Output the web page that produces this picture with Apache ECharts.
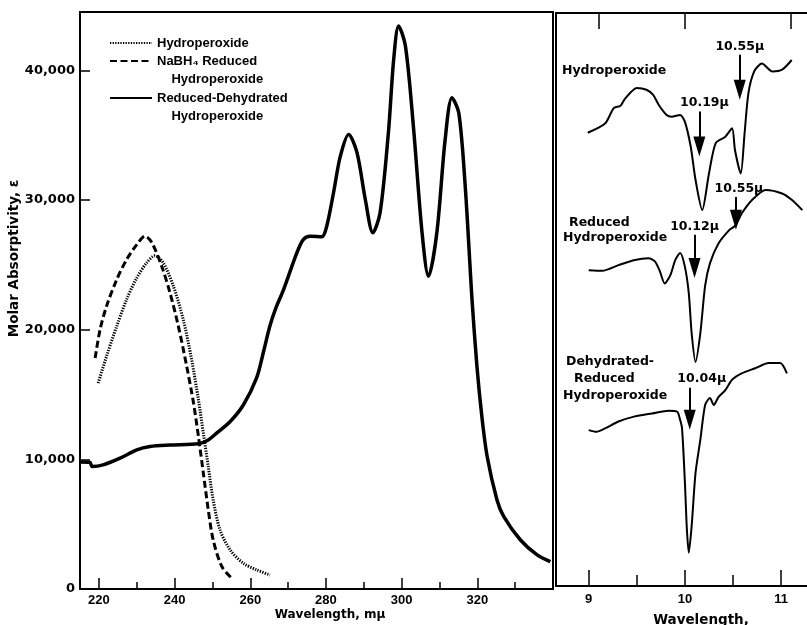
<!DOCTYPE html>
<html><head><meta charset="utf-8">
<script src="https://cdn.jsdelivr.net/npm/echarts@6/dist/echarts.min.js"></script>
<style>html,body{margin:0;padding:0;background:#fff}#c{width:807px;height:625px}</style>
</head><body><div id="c"></div>
<script>
// ---- tick values ----
const uvTicksMajor = [220, 240, 260, 280, 300, 320];
const uvTicksMinor = [230, 250, 270, 290, 310, 330];
const absTicks = [0, 10000, 20000, 30000, 40000];
const irTicksMajor = [9, 10, 11];
const irTicksMinor = [9.5, 10.5];
const irTicksTop = [9.1, 10, 11.1];

// ---- UV spectra: [wavelength mμ, molar absorptivity] ----
const hydroperoxideUV = [[219.8,15880],[222.0,17940],[224.7,20260],[227.3,22320],[230.0,23990],[232.6,25150],[234.8,25710],[237.0,25150],[239.7,23340],[242.3,20770],[244.5,17680],[246.3,14590],[247.6,12020],[248.9,9440],[250.2,6870],[252.0,4560],[254.7,3010],[258.2,1980],[261.7,1470],[265.2,1080]];
const reducedUV = [[219.0,17810],[220.3,20000],[222.0,21800],[224.7,23860],[227.3,25400],[230.0,26560],[232.2,27210],[234.0,26700],[236.6,24890],[238.8,22830],[241.0,20260],[243.2,17170],[245.0,14340],[246.3,11760],[247.6,8930],[248.9,6100],[250.2,3780],[252.5,1720],[255.1,830]];
const dehydratedUV = [[215.0,9800],[217.6,9780],[218.2,9450],[221.1,9575],[225.6,10090],[230.0,10730],[233.5,10990],[238.8,11100],[246.3,11200],[248.9,11500],[251.1,12020],[254.7,12920],[258.2,14210],[261.7,16300],[263.5,18300],[265.2,20300],[266.8,21700],[268.8,23090],[272.3,25920],[274.0,26950],[275.8,27200],[278.9,27160],[280.2,27980],[282.0,30560],[283.8,33380],[286.0,35060],[288.2,33650],[290.4,30040],[292.4,27470],[294.3,29010],[296.5,35190],[297.9,40850],[299.2,43420],[301.0,41880],[303.1,35700],[305.4,27470],[307.1,24120],[309.3,27470],[311.5,34670],[313.3,37890],[315.1,36730],[316.8,31070],[318.6,22320],[319.9,17170],[321.2,13300],[322.6,10220],[325.2,6870],[327.0,5580],[331.4,3780],[335.8,2630],[339.3,2110]];

// ---- IR spectra: [wavelength μ, relative transmittance (offset traces)] ----
const irHydroperoxide = [[8.99,79.1],[9.17,80.7],[9.26,83.4],[9.33,83.8],[9.38,85.1],[9.50,86.9],[9.60,86.6],[9.67,85.7],[9.73,83.9],[9.81,82.2],[9.86,81.9],[9.95,82.2],[10.00,81.0],[10.06,76.7],[10.11,70.9],[10.18,65.6],[10.25,72.0],[10.32,77.3],[10.42,78.4],[10.49,79.9],[10.52,76.1],[10.58,72.0],[10.62,79.0],[10.66,86.0],[10.72,89.8],[10.80,91.2],[10.91,89.8],[11.01,90.1],[11.11,91.8]];
const irReduced = [[9.00,55.1],[9.14,55.0],[9.31,56.0],[9.48,56.9],[9.62,57.2],[9.69,56.6],[9.74,54.9],[9.79,52.8],[9.85,54.3],[9.90,56.9],[9.95,58.1],[10.00,55.7],[10.04,51.1],[10.07,44.1],[10.11,39.1],[10.16,44.1],[10.21,52.4],[10.26,56.3],[10.35,59.8],[10.46,62.1],[10.51,62.7],[10.54,63.3],[10.59,65.0],[10.70,67.4],[10.84,69.1],[11.01,68.5],[11.11,67.4],[11.22,65.6]];
const irDehydrated = [[9.00,27.2],[9.08,26.9],[9.17,27.5],[9.31,28.7],[9.48,29.6],[9.66,30.1],[9.83,30.6],[9.92,30.4],[9.95,29.0],[9.97,27.5],[10.00,18.0],[10.02,10.0],[10.04,5.8],[10.07,10.5],[10.11,19.7],[10.16,25.5],[10.21,31.6],[10.26,32.8],[10.30,31.6],[10.35,33.0],[10.42,34.2],[10.49,36.0],[10.59,37.1],[10.73,38.0],[10.87,38.9],[10.99,38.9],[11.06,37.1]];

// ---- band annotations: [label, wavelength, arrow top, arrow tip] ----
const bandsHydroperoxide = [['10.55μ', 10.57, 92.7, 86.6], ['10.19μ', 10.15, 82.8, 76.7]];
const bandsReduced = [['10.55μ', 10.53, 67.9, 63.9], ['10.12μ', 10.10, 61.3, 55.5]];
const bandsDehydrated = [['10.04μ', 10.05, 34.6, 29.0]];

const F_LIB = 'Liberation Sans, Arial, sans-serif';
const F_DJV = 'DejaVu Sans, sans-serif';

function bandMarks(bands, pads) {
  return {
    silent: true,
    symbol: ['none', 'triangle'],
    symbolSize: [12, 20],
    lineStyle: { color: '#000', width: 2, type: 'solid' },
    label: { show: true, position: 'start', color: '#000', fontFamily: F_DJV, fontWeight: 'bold', fontSize: 12.5, distance: 2 },
    data: bands.map((b, i) => [
      { coord: [b[1], b[2]], label: { formatter: b[0], padding: pads[i] } },
      { coord: [b[1], b[3]] }
    ])
  };
}

const chart = echarts.init(document.getElementById('c'), null, { renderer: 'canvas' });
const legendBase = {
  orient: 'vertical', left: 109, padding: 0, itemWidth: 42, itemHeight: 10, itemGap: 0,
  itemStyle: { opacity: 0, borderWidth: 0 },
  textStyle: { color: '#000', fontFamily: F_LIB, fontWeight: 'bold', fontSize: 13, lineHeight: 18 },
  selectedMode: false
};
chart.setOption({
  backgroundColor: '#fff',
  animation: false,
  grid: [
    { left: 80, top: 12, right: 254, bottom: 36, outerBoundsMode: 'none', containLabel: false, show: true, borderColor: '#000', borderWidth: 2, backgroundColor: 'transparent' },
    { left: 556, top: 13, right: -3, bottom: 39, outerBoundsMode: 'none', containLabel: false, show: true, borderColor: '#000', borderWidth: 2, backgroundColor: 'transparent' }
  ],
  legend: [
    Object.assign({}, legendBase, { top: 34, data: ['Hydroperoxide'] }),
    Object.assign({}, legendBase, { top: 34, data: ['NaBH₄ Reduced Hydroperoxide'],
      formatter: () => '\nNaBH₄ Reduced\n    Hydroperoxide' }),
    Object.assign({}, legendBase, { top: 71, data: ['Reduced-Dehydrated Hydroperoxide'],
      formatter: () => '\nReduced-Dehydrated\n    Hydroperoxide' })
  ],
  xAxis: [
    { type: 'value', gridIndex: 0, position: 'bottom', min: 215, max: 340,
      name: 'Wavelength, mμ', nameLocation: 'middle', nameGap: 20, nameMoveOverlap: false,
      nameTextStyle: { color: '#000', fontFamily: F_DJV, fontWeight: 'bold', fontSize: 12, padding: [0, 0, 0, 27] },
      axisLine: { show: true, onZero: false, lineStyle: { color: '#000', width: 2 } },
      axisTick: { show: true, inside: true, length: 11, customValues: uvTicksMajor, lineStyle: { color: '#000', width: 1.5 } },
      axisLabel: { customValues: uvTicksMajor, color: '#000', fontFamily: F_LIB, fontWeight: 'bold', fontSize: 13, margin: 5 },
      splitLine: { show: false } },
    { type: 'value', gridIndex: 0, position: 'bottom', min: 215, max: 340,
      axisLine: { show: false, onZero: false },
      axisTick: { show: true, inside: true, length: 7, customValues: uvTicksMinor, lineStyle: { color: '#000', width: 1.5 } },
      axisLabel: { show: false }, splitLine: { show: false } },
    { type: 'value', gridIndex: 1, position: 'bottom', min: 8.66, max: 11.3,
      name: 'Wavelength,', nameLocation: 'middle', nameGap: 27, nameMoveOverlap: false,
      nameTextStyle: { color: '#000', fontFamily: F_DJV, fontWeight: 'bold', fontSize: 13.5, padding: [0, 0, 0, 36] },
      axisLine: { show: true, onZero: false, lineStyle: { color: '#000', width: 2 } },
      axisTick: { show: true, inside: true, length: 16, customValues: irTicksMajor, lineStyle: { color: '#000', width: 1.5 } },
      axisLabel: { customValues: irTicksMajor, color: '#000', fontFamily: F_LIB, fontWeight: 'bold', fontSize: 13, margin: 7 },
      splitLine: { show: false } },
    { type: 'value', gridIndex: 1, position: 'bottom', min: 8.66, max: 11.3,
      axisLine: { show: false, onZero: false },
      axisTick: { show: true, inside: true, length: 11, customValues: irTicksMinor, lineStyle: { color: '#000', width: 1.5 } },
      axisLabel: { show: false }, splitLine: { show: false } },
    { type: 'value', gridIndex: 1, position: 'top', min: 8.66, max: 11.3,
      axisLine: { show: false, onZero: false },
      axisTick: { show: true, inside: true, length: 16, customValues: irTicksTop, lineStyle: { color: '#000', width: 1.5 } },
      axisLabel: { show: false }, splitLine: { show: false } }
  ],
  yAxis: [
    { type: 'value', gridIndex: 0, min: 0, max: 44500,
      name: 'Molar Absorptivity, ε', nameLocation: 'middle', nameGap: 59, nameMoveOverlap: false,
      nameTextStyle: { color: '#000', fontFamily: F_DJV, fontWeight: 'bold', fontSize: 13.5, padding: [0, 0, 0, 84] },
      axisLine: { show: true, onZero: false, lineStyle: { color: '#000', width: 2 } },
      axisTick: { show: true, inside: true, length: 10, customValues: absTicks, lineStyle: { color: '#000', width: 1.5 } },
      axisLabel: { customValues: absTicks, color: '#000', fontFamily: F_DJV, fontWeight: 'bold', fontSize: 13, margin: 5,
        formatter: v => v.toLocaleString('en-US') },
      splitLine: { show: false } },
    { type: 'value', gridIndex: 1, min: 0, max: 100, show: false, splitLine: { show: false } }
  ],
  graphic: [
    { type: 'text', x: 562, y: 71, style: { text: 'Hydroperoxide', font: 'bold 12.5px DejaVu Sans', fill: '#000', verticalAlign: 'middle' } },
    { type: 'text', x: 569, y: 223, style: { text: 'Reduced', font: 'bold 12.5px DejaVu Sans', fill: '#000', verticalAlign: 'middle' } },
    { type: 'text', x: 563, y: 238, style: { text: 'Hydroperoxide', font: 'bold 12.5px DejaVu Sans', fill: '#000', verticalAlign: 'middle' } },
    { type: 'text', x: 566, y: 362, style: { text: 'Dehydrated-', font: 'bold 12.5px DejaVu Sans', fill: '#000', verticalAlign: 'middle' } },
    { type: 'text', x: 574, y: 379, style: { text: 'Reduced', font: 'bold 12.5px DejaVu Sans', fill: '#000', verticalAlign: 'middle' } },
    { type: 'text', x: 563, y: 396, style: { text: 'Hydroperoxide', font: 'bold 12.5px DejaVu Sans', fill: '#000', verticalAlign: 'middle' } }
  ],
  series: [
    { name: 'Hydroperoxide', type: 'line', xAxisIndex: 0, yAxisIndex: 0, data: hydroperoxideUV, symbol: 'none', smooth: 0.3,
      lineStyle: { color: '#000', width: 3, type: [1.3, 1.3], cap: 'butt' }, itemStyle: { color: '#000' } },
    { name: 'NaBH₄ Reduced Hydroperoxide', type: 'line', xAxisIndex: 0, yAxisIndex: 0, data: reducedUV, symbol: 'none', smooth: 0.3,
      lineStyle: { color: '#000', width: 3, type: [7, 3.5], cap: 'butt' }, itemStyle: { color: '#000' } },
    { name: 'Reduced-Dehydrated Hydroperoxide', type: 'line', xAxisIndex: 0, yAxisIndex: 0, data: dehydratedUV, symbol: 'none', smooth: 0.3,
      lineStyle: { color: '#000', width: 3.5 }, itemStyle: { color: '#000' }, z: 3 },
    { name: 'IR Hydroperoxide', type: 'line', xAxisIndex: 2, yAxisIndex: 1, data: irHydroperoxide, symbol: 'none', smooth: 0.25,
      lineStyle: { color: '#000', width: 2 }, markLine: bandMarks(bandsHydroperoxide, [[0,0,0,0],[0,0,0,10]]) },
    { name: 'IR Reduced Hydroperoxide', type: 'line', xAxisIndex: 2, yAxisIndex: 1, data: irReduced, symbol: 'none', smooth: 0.25,
      lineStyle: { color: '#000', width: 2 }, markLine: bandMarks(bandsReduced, [[0,0,0,6],[0,0,0,0]]) },
    { name: 'IR Dehydrated-Reduced Hydroperoxide', type: 'line', xAxisIndex: 2, yAxisIndex: 1, data: irDehydrated, symbol: 'none', smooth: 0.25,
      lineStyle: { color: '#000', width: 2 }, markLine: bandMarks(bandsDehydrated, [[0,0,0,24]]) }
  ]
});
</script></body></html>
